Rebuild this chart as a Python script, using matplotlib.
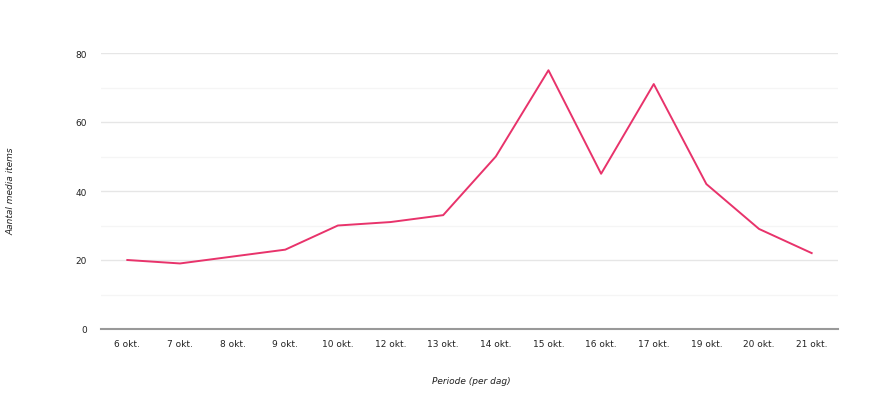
import matplotlib.pyplot as plt
import numpy as np

dagen = ["6 okt.", "7 okt.", "8 okt.", "9 okt.", "10 okt.", "12 okt.", "13 okt.",
         "14 okt.", "15 okt.", "16 okt.", "17 okt.", "19 okt.", "20 okt.", "21 okt."]
items = [20, 19, 21, 23, 30, 31, 33, 50, 75, 45, 71, 42, 29, 22]

fig = plt.figure(figsize=(8.87, 4.02), dpi=100)
ax = fig.add_axes([101 / 887, 72 / 402, 737 / 887, 276 / 402])

x = np.arange(len(dagen))
ax.plot(x, items, color="#e8336b", linewidth=1.4)

ax.set_xlim(-0.5, len(dagen) - 0.5)
ax.set_ylim(0, 80)
ax.set_yticks([0, 20, 40, 60, 80])
ax.set_yticks([10, 30, 50, 70], minor=True)
ax.set_xticks(x)
ax.set_xticklabels(dagen)

ax.grid(axis="y", which="major", color="#e6e6e6", linewidth=1)
ax.grid(axis="y", which="minor", color="#f5f5f5", linewidth=1)
ax.set_axisbelow(True)

for s in ["top", "right", "left"]:
    ax.spines[s].set_visible(False)
ax.spines["bottom"].set_color("#999999")
ax.spines["bottom"].set_linewidth(1.5)

ax.tick_params(axis="both", which="both", length=0, labelsize=6.5, colors="#222222")
ax.tick_params(axis="y", pad=10)
ax.tick_params(axis="x", pad=7)

fig.text(471 / 887, 1 - 382 / 402, "Periode (per dag)", fontsize=6.5, style="italic",
         ha="center", va="center", color="#222222")
fig.text(11 / 887, 1 - 191 / 402, "Aantal media items", fontsize=6.5, style="italic",
         ha="center", va="center", rotation=90, color="#222222")

fig.savefig("out.png", dpi=100)
